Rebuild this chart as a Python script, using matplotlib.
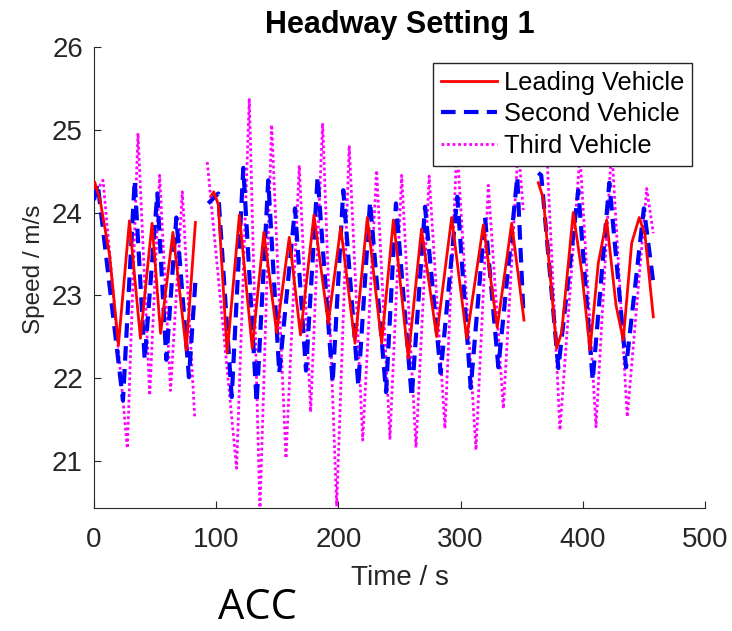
import numpy as np
import matplotlib.pyplot as plt

nan = np.nan

# Leading vehicle (red, solid)
t_lead = [0, 0.5, 5, 12.8, 20, 29, 38, 47.5, 54.5, 64.6, 75.5, 83, nan,
          96.3, 98, 101.7, 109, 119, 129.5, 139, 149.5, 159.8, 169, 180, 191.7, 201.9,
          213.6, 223.7, 235.4, 245, 249, 257.2, 268, 280.4, 292.7, 305, 318.6, 330,
          341.8, 351.9, nan,
          363.6, 367.7, 378.6, 382.7, 392.2, 399, 405.9, 412.7, 419.5, 427.2, 433.1,
          440, 446.2, 450.9, 457.7]
v_lead = [24.3, 24.37, 24.15, 23.48, 22.4, 23.9, 22.48, 23.87, 22.54, 23.76, 22.34, 23.88, nan,
          24.21, 24.25, 24.1, 22.3, 23.97, 22.36, 23.76, 22.55, 23.7, 22.52, 23.97, 22.66, 23.82,
          22.42, 23.94, 22.42, 23.91, 23.39, 22.24, 23.8, 22.5, 23.94, 22.48, 23.85, 22.61,
          23.87, 22.7, nan,
          24.36, 24.17, 22.36, 22.55, 24.0, 23.3, 22.34, 23.39, 23.91, 22.88, 22.46,
          23.63, 23.94, 23.73, 22.74]

# Second vehicle (blue, dashed)
t_second = [0, 3, 23.7, 33.3, 41.5, 51.8, 59.2, 67.4, 77.7, 82.9, nan,
            93.5, 101.7, 112.7, 122.2, 133.1, 142.6, 151.6, 164.5, 173.5, 183, 195.3,
            204, 216.3, 225.9, 239, 247.1, 260, 270.9, 283.7, 297.3, 308.3, 320, 330.9,
            346.4, 351.3, nan,
            363.6, 366, 380, 396.3, 408.1, 421.7, 435.4, 450, 457.7]
v_second = [24.15, 24.35, 21.73, 24.39, 22.22, 24.23, 22.22, 23.94, 22.01, 23.15, nan,
            24.11, 24.23, 21.77, 24.54, 21.7, 24.39, 22.06, 24.05, 22.09, 24.43, 21.94,
            24.27, 21.91, 24.13, 21.83, 24.11, 21.77, 24.07, 22.06, 24.19, 21.88, 23.94, 22.13,
            24.43, 22.82, nan,
            24.48, 24.45, 22.12, 24.27, 21.97, 24.36, 22.13, 24.05, 23.15]

# Third vehicle (magenta, dotted)
t_third = [0, 7.4, 27.3, 36, 45.6, 53.7, 62.7, 72.3, 82.4, nan,
           92.7, 116.7, 127.1, 135.8, 145.4, 157.1, 168, 177.3, 187.1, 198.6, 208.9,
           219.9, 231.3, 242.2, 251.8, 263.5, 274.3, 287.2, 297, 312.6, 322.7, 335,
           347.2, 351.3, nan,
           370, 381.3, 397.7, 410.8, 423.6, 436.4, 452.3, 457.7]
v_third = [24.2, 24.39, 21.15, 24.96, 21.79, 24.45, 21.85, 24.25, 21.53, nan,
           24.61, 20.91, 25.38, 20.4, 25.06, 21.03, 24.57, 21.59, 25.08, 20.45, 24.81,
           21.25, 24.51, 21.27, 24.45, 21.16, 24.44, 21.39, 24.8, 21.13, 24.33, 21.63,
           24.8, 24.03, nan,
           24.9, 21.37, 24.7, 21.41, 24.8, 21.53, 24.29, 23.75]

labels = ['Leading Vehicle', 'Second Vehicle', 'Third Vehicle']
x_ticks = [0, 100, 200, 300, 400, 500]
y_ticks = [21, 22, 23, 24, 25, 26]

plt.rcParams['font.family'] = ['Liberation Sans', 'DejaVu Sans']

fig = plt.figure(figsize=(7.32, 6.31), dpi=100)
ax = fig.add_axes([0.1284, 0.195, 0.8347, 0.7305])

ax.plot(t_third, v_third, color='#ff00ff', lw=2, ls=(0, (1, 1)), label=labels[2],
        zorder=2, solid_joinstyle='round')
ax.plot(t_second, v_second, color='#0000ff', lw=3, ls=(0, (3.5, 2)), label=labels[1],
        zorder=3, dash_joinstyle='round')
ax.plot(t_lead, v_lead, color='#ff0000', lw=2, ls='-', label=labels[0], zorder=4,
        solid_joinstyle='round')

ax.set_xlim(0, 500)
ax.set_ylim(20.43, 26)
ax.set_xticks(x_ticks)
ax.set_yticks(y_ticks)
ax.tick_params(direction='in', labelsize=20, colors='#262626', length=5)
ax.tick_params(axis='x', pad=14)
ax.tick_params(axis='y', pad=8)
for s in ['top', 'right']:
    ax.spines[s].set_visible(False)
for s in ['left', 'bottom']:
    ax.spines[s].set_color('#262626')

ax.set_title('Headway Setting 1', fontsize=22, fontweight='bold', pad=10)
ax.set_xlabel('Time / s', fontsize=20, color='#262626', labelpad=8)
ax.set_ylabel('Speed / m/s', fontsize=17.5, color='#262626')
ax.yaxis.set_label_coords(-0.08, 0.518)

h, l = ax.get_legend_handles_labels()
leg = ax.legend(h[::-1], l[::-1], loc='upper right', bbox_to_anchor=(0.979, 0.965),
                borderaxespad=0, fontsize=18.3, fancybox=False, framealpha=1,
                edgecolor='#262626', handlelength=2.2, handletextpad=0.28,
                borderpad=0.3, labelspacing=0.3)
leg.get_frame().set_linewidth(1)

fig.text(0.352, 0.003, 'ACC', fontsize=30, family=['Open Sans', 'DejaVu Sans'],
         ha='center', va='bottom')

fig.savefig('out.png', dpi=100)
